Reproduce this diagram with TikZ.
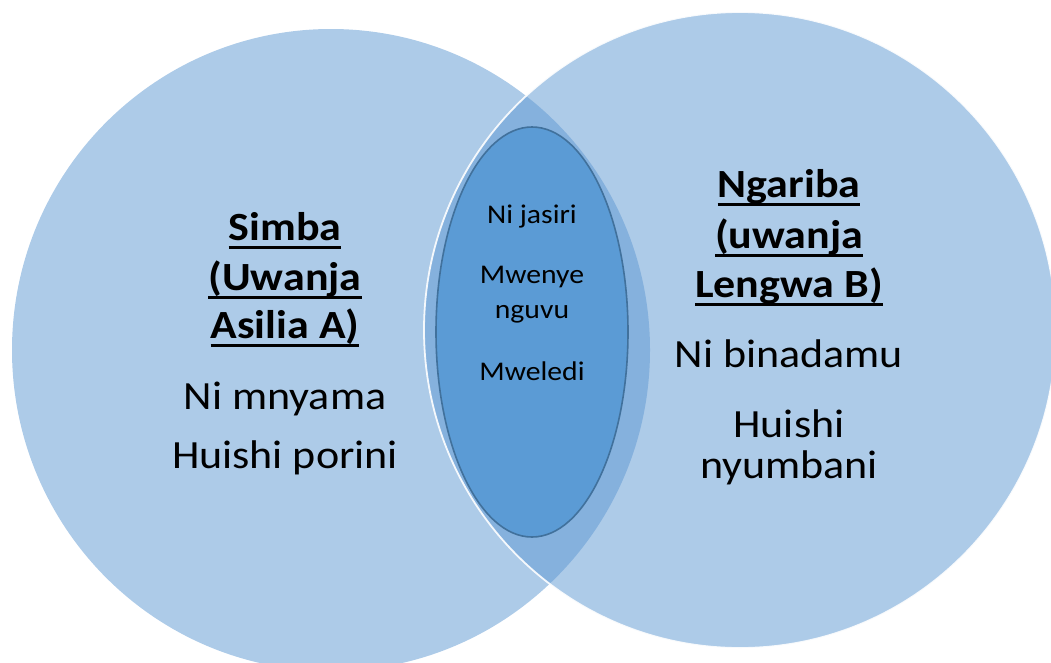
\documentclass[tikz,border=0pt]{standalone}
\usepackage{fontspec}
\setmainfont[FakeStretch=1.1]{Carlito}
\definecolor{vennlight}{HTML}{ADCBE8}
\definecolor{vennmid}{HTML}{85B1DD}
\definecolor{venncore}{HTML}{5B9BD5}
\definecolor{venncoreline}{HTML}{41719C}
% underlined word with a heavy rule at a fixed depth below the baseline
\newcommand\heavyul[1]{\setbox0\hbox{#1}\rlap{\rule[-8.6pt]{\wd0}{2.6pt}}\box0}
\begin{document}
\begin{tikzpicture}[x=1pt,y=-1pt,
  titletxt/.style={anchor=base,inner sep=0pt,font=\fontsize{40}{48}\selectfont\bfseries},
  bodytxt/.style={anchor=base,inner sep=0pt,font=\fontsize{40}{48}\selectfont},
  coretxt/.style={anchor=base,inner sep=0pt,font=\fontsize{27}{32}\selectfont}]
\useasboundingbox (0,0) rectangle (1051,662);
\clip (0,0) rectangle (1051,662);
% the two sets
\fill[vennlight] (331,350) ellipse [x radius=319, y radius=321];
\fill[vennlight] (740,330) ellipse [x radius=316, y radius=318];
% their common part
\begin{scope}
  \clip (331,350) ellipse [x radius=319, y radius=321];
  \fill[vennmid] (740,330) ellipse [x radius=316, y radius=318];
\end{scope}
% soft rim of the right set
\draw[white, line width=1.8pt, opacity=0.9] (740,330) ellipse [x radius=316, y radius=318];
% the core of shared traits
\draw[venncoreline, line width=1.6pt, fill=venncore] (532,332) ellipse [x radius=96, y radius=205];

% left set
\node[titletxt] (l1) at (285,240) {\heavyul{Simba}};
\node[titletxt] (l2) at (285,290) {\heavyul{(Uwanja}};
\node[titletxt] (l3) at (285,338) {\heavyul{Asilia A)}};
\node[bodytxt] (l4) at (285,409) {Ni mnyama};
\node[bodytxt] (l5) at (285,468) {Huishi porini};

% right set
\node[titletxt] (r1) at (789,197) {\heavyul{Ngariba}};
\node[titletxt] (r2) at (789,248) {\heavyul{(uwanja}};
\node[titletxt] (r3) at (789,297) {\heavyul{Lengwa B)}};
\node[bodytxt] (r4) at (789,367) {Ni binadamu};
\node[bodytxt] (r5) at (789,437) {Huishi};
\node[bodytxt] (r6) at (789,478) {nyumbani};

% shared traits
\node[coretxt] (c1) at (532,223) {Ni jasiri};
\node[coretxt] (c2) at (532,283) {Mwenye};
\node[coretxt] (c3) at (532,318) {nguvu};
\node[coretxt] (c4) at (532,380) {Mweledi};
\end{tikzpicture}
\end{document}
